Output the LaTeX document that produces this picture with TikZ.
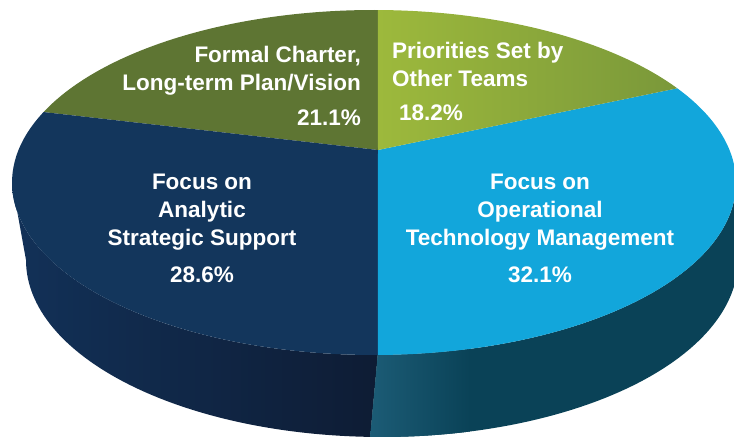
\documentclass[tikz,border=0pt]{standalone}
\usepackage{fontspec}
\setmainfont{Liberation Sans}
\usetikzlibrary{calc}
\definecolor{charterGreen}{HTML}{5E7533}
\definecolor{teamsGreen}{HTML}{9DB93C}
\definecolor{teamsGreenDark}{HTML}{7A983A}
\definecolor{analyticBlue}{HTML}{13365C}
\definecolor{analyticSideL}{HTML}{123158}
\definecolor{analyticSideR}{HTML}{0E1C34}
\definecolor{operBlue}{HTML}{12A6DB}
\definecolor{operSideL}{HTML}{1C5C76}
\definecolor{operSideR}{HTML}{0A4257}
\begin{document}
\begin{tikzpicture}[x=1pt,y=1pt,
    lbl/.style={text=white,inner sep=0pt,font=\fontsize{22.5}{28}\selectfont\bfseries}]
	\useasboundingbox (0,0) rectangle (734,438);
	\coordinate (top) at (374,255.5);
	\coordinate (bot) at (382,178);
	\coordinate (apex) at (378,288);
	\shade[left color=analyticSideL,right color=analyticSideR]
	($(top)+(180:362 and 172.5)$) arc[start angle=180,end angle=270.6,x radius=362,y radius=172.5]
	-- ($(bot)+(268.1:356 and 177)$) arc[start angle=268.1,end angle=180,x radius=356,y radius=177] -- cycle;
	\begin{scope}
		\clip ($(top)+(270.6:362 and 172.5)$) arc[start angle=270.6,end angle=360,x radius=362,y radius=172.5]
		-- ($(bot)+(0:356 and 177)$) arc[start angle=360,end angle=268.1,x radius=356,y radius=177] -- cycle;
		\fill[operSideR] (360,0) rectangle (740,270);
		\shade[left color=operSideL,right color=operSideR] (369,0) rectangle (470,270);
	\end{scope}
	\fill[charterGreen] (apex) -- ($(top)+(89.4:362 and 172.5)$) arc[start angle=89.4,end angle=155.9,x radius=362,y radius=172.5] -- cycle;
	\fill[analyticBlue] (apex) -- ($(top)+(155.9:362 and 172.5)$) arc[start angle=155.9,end angle=270.6,x radius=362,y radius=172.5] -- cycle;
	\fill[operBlue] (apex) -- ($(top)+(270.6:362 and 172.5)$) arc[start angle=270.6,end angle=393.1,x radius=362,y radius=172.5] -- cycle;
	\shade[left color=teamsGreen,middle color=teamsGreen,right color=teamsGreenDark]
	(apex) -- ($(top)+(33.1:362 and 172.5)$) arc[start angle=33.1,end angle=89.4,x radius=362,y radius=172.5] -- cycle;
	\node[lbl,anchor=north east,align=right] (charter) at (361,392) {Formal Charter,\\Long-term Plan/Vision\\[7pt]21.1\%};
	\node[lbl,anchor=north west,align=left] (teams) at (392,396) {Priorities Set by\\Other Teams\\[6pt]\hspace*{7pt}18.2\%};
	\node[lbl,anchor=north,align=center] (analytic) at (202,264) {Focus on\\Analytic\\Strategic Support\\[9pt]28.6\%};
	\node[lbl,anchor=north,align=center] (operational) at (540,264) {Focus on\\Operational\\Technology Management\\[9pt]32.1\%};
\end{tikzpicture}
\end{document}
